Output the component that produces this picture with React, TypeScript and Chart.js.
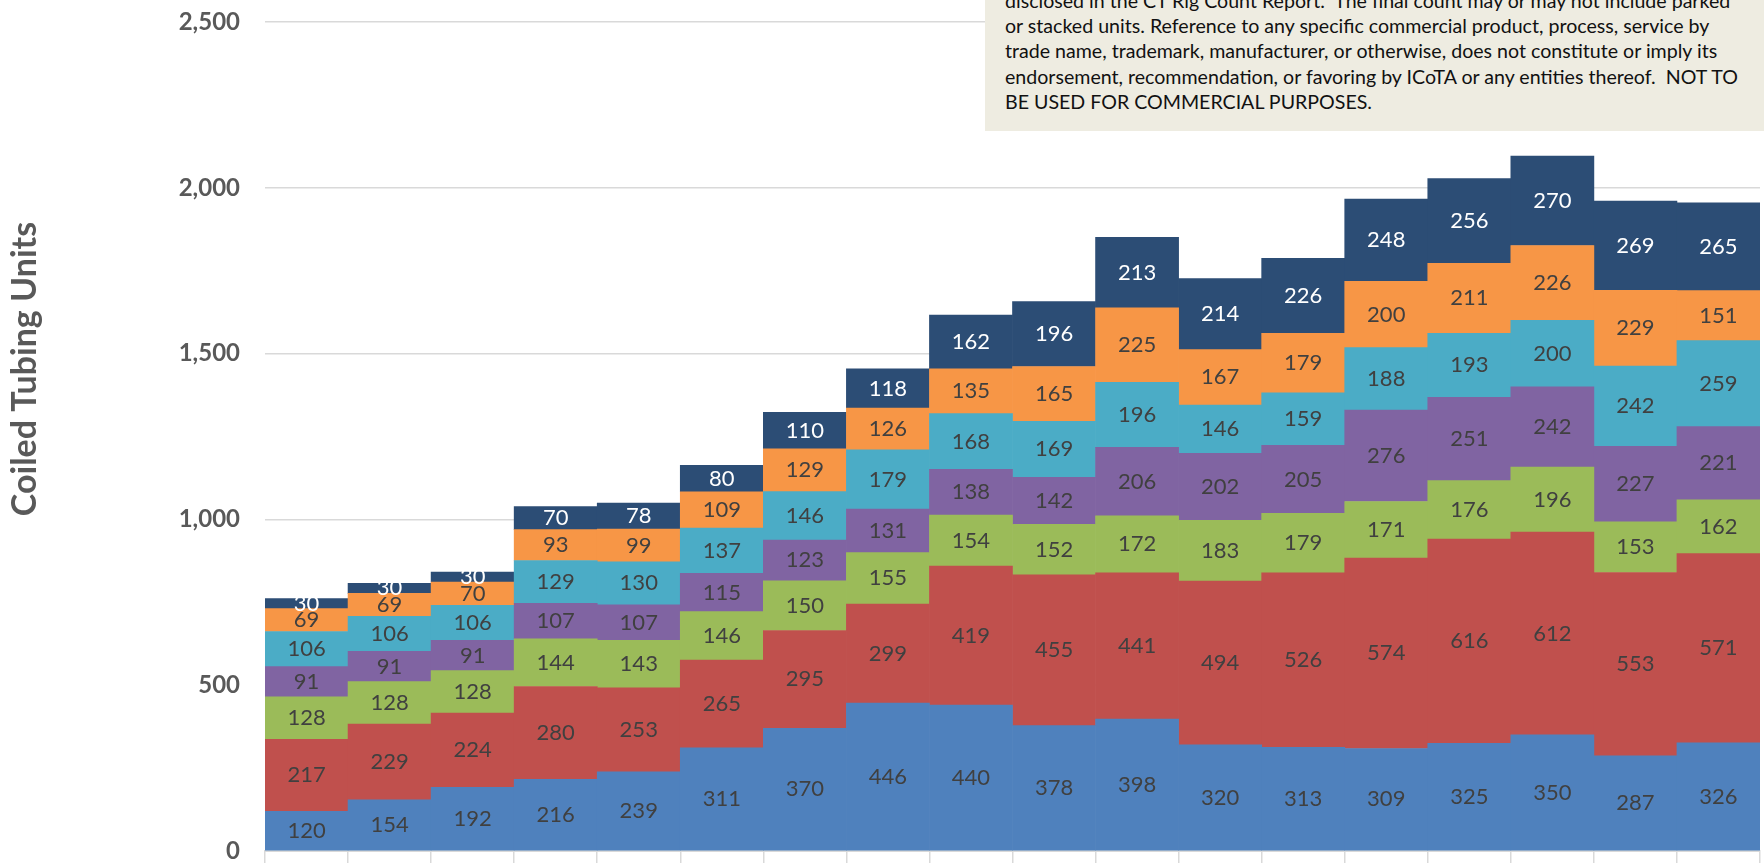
import React, { useEffect, useRef } from "react";
import { Chart, registerables } from "chart.js";

Chart.register(...registerables);

const categories = [
  "2001", "2002", "2003", "2004", "2005", "2006", "2007", "2008", "2009",
  "2010", "2011", "2012", "2013", "2014", "2015", "2016", "2017", "2018",
];

const seriesNames = [
  "Canada",
  "United States",
  "Latin America",
  "Europe / Africa",
  "Middle East",
  "Asia Pacific",
  "Russia / CIS",
];

const series1 = [120, 154, 192, 216, 239, 311, 370, 446, 440, 378, 398, 320, 313, 309, 325, 350, 287, 326];
const series2 = [217, 229, 224, 280, 253, 265, 295, 299, 419, 455, 441, 494, 526, 574, 616, 612, 553, 571];
const series3 = [128, 128, 128, 144, 143, 146, 150, 155, 154, 152, 172, 183, 179, 171, 176, 196, 153, 162];
const series4 = [91, 91, 91, 107, 107, 115, 123, 131, 138, 142, 206, 202, 205, 276, 251, 242, 227, 221];
const series5 = [106, 106, 106, 129, 130, 137, 146, 179, 168, 169, 196, 146, 159, 188, 193, 200, 242, 259];
const series6 = [69, 69, 70, 93, 99, 109, 129, 126, 135, 165, 225, 167, 179, 200, 211, 226, 229, 151];
const series7 = [30, 30, 30, 70, 78, 80, 110, 118, 162, 196, 213, 214, 226, 248, 256, 270, 269, 265];

const yTicks = [0, 500, 1000, 1500, 2000, 2500];

const seriesColors = ["#4F81BD", "#C0504D", "#9BBB59", "#8064A2", "#4BACC6", "#F79646", "#2C4D75"];
const labelColors = ["#404040", "#404040", "#404040", "#404040", "#404040", "#404040", "#FFFFFF"];

const axisTitle = "Coiled Tubing Units";

const disclaimerLines = [
  "disclosed in the CT Rig Count Report.  The final count may or may not include parked",
  "or stacked units. Reference to any specific commercial product, process, service by",
  "trade name, trademark, manufacturer, or otherwise, does not constitute or imply its",
  "endorsement, recommendation, or favoring by ICoTA or any entities thereof.  NOT TO",
  "BE USED FOR COMMERCIAL PURPOSES.",
];

const FONT = "Lato, 'Open Sans', sans-serif";

const segmentLabels = {
  id: "segmentLabels",
  afterDatasetsDraw(chart: any) {
    const ctx = chart.ctx;
    ctx.save();
    ctx.font = `22px ${FONT}`;
    ctx.textAlign = "center";
    ctx.textBaseline = "middle";
    chart.data.datasets.forEach((ds: any, di: number) => {
      const meta = chart.getDatasetMeta(di);
      meta.data.forEach((el: any, i: number) => {
        const p = el.getProps(["x", "y", "base"], true);
        ctx.fillStyle = labelColors[di];
        ctx.fillText(String(ds.data[i]), p.x, (p.y + p.base) / 2);
      });
    });
    ctx.restore();
  },
};

const yTitle = {
  id: "yTitle",
  afterDraw(chart: any) {
    const ctx = chart.ctx;
    ctx.save();
    ctx.translate(25, 369);
    ctx.rotate(-Math.PI / 2);
    ctx.font = `bold 34px ${FONT}`;
    ctx.fillStyle = "#595959";
    ctx.textAlign = "center";
    ctx.textBaseline = "middle";
    ctx.fillText(axisTitle, 0, 0);
    ctx.restore();
  },
};

export default function App() {
  const canvasRef = useRef<HTMLCanvasElement | null>(null);

  useEffect(() => {
    let chart: Chart | null = null;
    let cancelled = false;
    const make = () => {
      if (cancelled || !canvasRef.current) return;
      const datasets = [series1, series2, series3, series4, series5, series6, series7].map((d, i) => ({
        label: seriesNames[i],
        data: d,
        backgroundColor: seriesColors[i],
        borderWidth: 0,
        barPercentage: 1,
        categoryPercentage: 1,
      }));
      chart = new Chart(canvasRef.current, {
        type: "bar",
        data: { labels: categories, datasets },
        options: {
          responsive: false,
          animation: false,
          devicePixelRatio: 1,
          layout: { padding: { top: 22, right: 4, bottom: 0, left: 0 } },
          plugins: {
            legend: { display: false },
            tooltip: { enabled: false },
            title: { display: false },
          },
          scales: {
            x: {
              stacked: true,
              grid: {
                display: true,
                offset: true,
                drawOnChartArea: false,
                drawTicks: true,
                tickLength: 20,
                color: "#D9D9D9",
                lineWidth: 1.5,
              },
              border: { display: true, color: "#D9D9D9", width: 2 },
              ticks: {
                font: { family: FONT, size: 24, weight: "bold" },
                color: "#595959",
                padding: -12,
                maxRotation: 0,
                autoSkip: false,
              },
              afterFit: (s: any) => {
                s.height = 49;
                s.paddingTop = 0;
                s.paddingBottom = 0;
              },
            },
            y: {
              stacked: true,
              min: 0,
              max: 2500,
              afterBuildTicks: (s: any) => {
                s.ticks = yTicks.map((v) => ({ value: v }));
              },
              ticks: {
                font: { family: FONT, size: 24, weight: "bold" },
                color: "#595959",
                padding: 25,
                callback: (v: any) => Number(v).toLocaleString("en-US"),
              },
              grid: { color: "#D9D9D9", lineWidth: 1.5, drawTicks: false },
              border: { display: false },
              afterFit: (s: any) => {
                s.width = 265;
                s.paddingTop = 0;
                s.paddingBottom = 0;
              },
            },
          },
        },
        plugins: [segmentLabels, yTitle],
      });
    };
    const fontsReady = (document as any).fonts
      ? Promise.all([
          (document as any).fonts.load(`bold 24px Lato`),
          (document as any).fonts.load(`20px Lato`),
        ]).catch(() => null)
      : Promise.resolve(null);
    fontsReady.then(make);
    return () => {
      cancelled = true;
      if (chart) chart.destroy();
    };
  }, []);

  return (
    <div
      style={{
        position: "fixed",
        left: 0,
        top: 0,
        width: 1764,
        height: 863,
        overflow: "hidden",
        background: "#FFFFFF",
      }}
    >
      <canvas ref={canvasRef} width={1764} height={900} style={{ display: "block" }} />
      <div
        style={{
          position: "absolute",
          left: 985,
          top: 0,
          width: 779,
          height: 131,
          background: "#EEECE1",
          overflow: "hidden",
        }}
      >
        <div
          style={{
            position: "absolute",
            left: 20,
            top: -12,
            fontFamily: FONT,
            fontSize: 19.6,
            lineHeight: "25.2px",
            color: "#111111",
            whiteSpace: "pre",
          }}
        >
          {disclaimerLines.map((l, i) => (
            <div key={i}>{l}</div>
          ))}
        </div>
      </div>
    </div>
  );
}
